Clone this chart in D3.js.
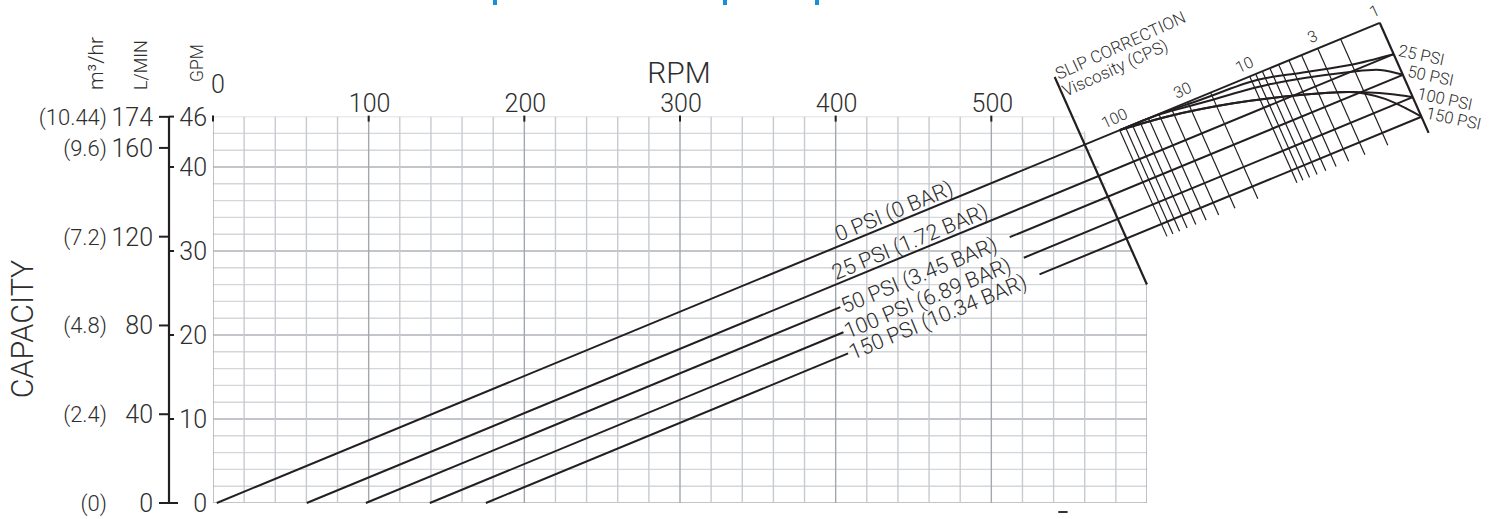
<!DOCTYPE html>
<html><head><meta charset="utf-8">
<script src="https://cdn.jsdelivr.net/npm/d3@7"></script>
<style>
body{margin:0;background:#fff;}
text{font-family:Roboto,"Liberation Sans",Arial,sans-serif;font-weight:300;fill:#2e2e2e;}
</style></head>
<body><svg id="c" width="1499" height="519"></svg>
<script>
// ---------- data ----------
const rpmTicks = [0, 100, 200, 300, 400, 500];
const gpmTicks = [0, 10, 20, 30, 40, 46];
const lpmTicks = [0, 40, 80, 120, 160, 174];
const m3hrLabels = ["(0)", "(2.4)", "(4.8)", "(7.2)", "(9.6)", "(10.44)"];
const pressurePsi = [0, 25, 50, 100, 150];
const pressureLabels = ["0 PSI (0 BAR)", "25 PSI (1.72 BAR)", "50 PSI (3.45 BAR)", "100 PSI (6.89 BAR)", "150 PSI (10.34 BAR)"];
const zeroFlowRpm = [2.4, 60.2, 98.2, 139.3, 175.3];      // RPM where each pressure line meets 0 GPM
const labelStartRpm = [403, 401, 404, 406, 409];           // RPM where each line label begins
const labelOnLine = [false, false, true, true, true];
const rightPsiLabels = ["25 PSI", "50 PSI", "100 PSI", "150 PSI"];
const viscosityLines = [100, 90, 80, 70, 60, 50, 40, 30, 20, 10, 9, 8, 7, 6, 5, 4, 3, 2];
const viscosityLabels = [100, 30, 10, 3, 1];
// slip-correction curves: [viscosity CPS, equivalent zero-flow RPM]
const curve25  = [[100, 2.4], [49, 3], [24.6, 7], [9.2, 12.4], [4.5, 29.8], [2.07, 48.9], [1, 60.2]];
const curve50  = [[100, 2.4], [49, 3.5], [25.2, 12.2], [8.2, 26.5], [2.17, 59.8], [1.36, 75.9], [1, 98.2]];
const curve100 = [[100, 2.4], [45.3, 11.6], [15.3, 33.6], [5.35, 63.5], [2.48, 90.9], [1.38, 119.7], [1, 139.3]];
const curve150 = [[100, 2.4], [45.3, 11.6], [15.3, 33.6], [5.35, 63.5], [2.48, 90.9], [1.95, 104.9], [1.53, 124.3], [1.18, 153.7], [1, 175.3]];
const curves = [curve25, curve50, curve100, curve150];
const slipAxisRpm = 560;          // where the slip axis crosses the 0 PSI line
const slipAxisExtent = [-122, 260];
const viscLineEnd = 198;          // equivalent zero-flow RPM where viscosity lines stop
const viscOneEnd = 205;

// ---------- scales ----------
const svg = d3.select("#c");
const x = d3.scaleLinear().domain([0, 600]).range([213, 1147]);
const y = d3.scaleLinear().domain([0, 46]).range([503, 116.6]);
const yL = d3.scaleLinear().domain([0, 174]).range([y(0), y(174 / 3.785)]);
const visc = d3.scaleLog().domain([100, 1]).range([582.5, 749.5]);

// geometry of the nomograph (RPM / GPM units)
const k = 0.4129 * (x(1) - x(0)) / (y(0) - y(1));  // GPM per RPM of the pressure lines
const m = 2.25 * (x(1) - x(0)) / (y(0) - y(1));    // viscosity-line direction
const s0 = zeroFlowRpm[0];
function onViscLine(r, s) {
  const g0 = k * (r - s0);
  const t = k * (s - s0) / (k + m);
  return [r + t, g0 - m * t];
}
const P = d => [x(d[0]), y(d[1])];
const ink = "#231f20";

// ---------- title fragments (cut off at the top edge) ----------
[495, 725, 817].forEach(cx => svg.append("rect").attr("x", cx - 2).attr("y", 0).attr("width", 4).attr("height", 5).attr("fill", "#1a8fd3"));

// ---------- grid ----------
const defs = svg.append("defs");
const axBot = onViscLine(slipAxisRpm, slipAxisExtent[1]);
const clipPoly = [[0, 0], [600, 0], [600, axBot[1]], [556, 46], [0, 46]];
defs.append("clipPath").attr("id", "gclip").append("polygon")
  .attr("points", clipPoly.map(p => P(p).join(",")).join(" "));
const grid = svg.append("g").attr("clip-path", "url(#gclip)");
d3.range(0, 47, 2).forEach(g => {
  grid.append("line").attr("x1", x(0)).attr("x2", x(600)).attr("y1", y(g)).attr("y2", y(g))
    .attr("stroke", g % 10 === 0 ? "#aeb2b8" : "#d3d6da").attr("stroke-width", 1.4);
});
d3.range(0, 601, 20).forEach(r => {
  grid.append("line").attr("x1", x(r)).attr("x2", x(r)).attr("y1", y(0)).attr("y2", y(46))
    .attr("stroke", r % 100 === 0 ? "#a3a8ae" : "#c7cbd0").attr("stroke-width", 1.4);
});

// RPM ticks + labels
rpmTicks.forEach(r => {
  svg.append("line").attr("x1", x(r)).attr("x2", x(r)).attr("y1", y(46) - 1).attr("y2", y(46) + 5)
    .attr("stroke", ink).attr("stroke-width", 2);
});
svg.append("text").attr("x", x(0) + 5).attr("y", 93).attr("text-anchor", "middle")
  .attr("font-size", 25).text(rpmTicks[0]);
rpmTicks.slice(1).forEach(r => svg.append("text").attr("x", x(r) + 1).attr("y", 112)
  .attr("text-anchor", "middle").attr("font-size", 25).text(r));
svg.append("text").attr("x", 679).attr("y", 83).attr("text-anchor", "middle").attr("font-size", 30).text("RPM");

// ---------- left capacity axis ----------
const axX = 169;
svg.append("line").attr("x1", axX).attr("x2", axX).attr("y1", y(46)).attr("y2", y(0)).attr("stroke", ink).attr("stroke-width", 2.2);
lpmTicks.forEach((l, i) => {
  svg.append("line").attr("x1", axX - 10).attr("x2", axX).attr("y1", yL(l)).attr("y2", yL(l)).attr("stroke", ink).attr("stroke-width", 2);
  svg.append("text").attr("x", 153).attr("y", yL(l)).attr("dy", "0.36em").attr("text-anchor", "end").attr("font-size", 25).text(l);
  svg.append("text").attr("x", 107).attr("y", yL(l)).attr("dy", "0.36em").attr("text-anchor", "end").attr("font-size", 22).text(m3hrLabels[i]);
});
gpmTicks.forEach(g => {
  svg.append("line").attr("x1", axX).attr("x2", axX + (g === 0 ? 9 : 5)).attr("y1", y(g)).attr("y2", y(g)).attr("stroke", ink).attr("stroke-width", 2);
  svg.append("text").attr("x", 207).attr("y", y(g)).attr("dy", "0.36em").attr("text-anchor", "end").attr("font-size", 25).text(g);
});
[["m³/hr", 103, 90, 21], ["L/MIN", 147, 90, 18], ["GPM", 203, 82, 17.5]].forEach(([t, bx, by, fs]) => {
  svg.append("text").attr("transform", `translate(${bx},${by}) rotate(-90)`)
    .attr("text-anchor", "start").attr("font-size", fs).text(t);
});
svg.append("text").attr("transform", "translate(33,329) rotate(-90)").attr("text-anchor", "middle")
  .attr("font-size", 30.5).text("CAPACITY");

// ---------- nomograph ----------
const nomo = svg.append("g");
viscosityLines.forEach(v => {
  const a = onViscLine(visc(v), s0), b = onViscLine(visc(v), viscLineEnd);
  nomo.append("line").attr("x1", x(a[0])).attr("y1", y(a[1])).attr("x2", x(b[0])).attr("y2", y(b[1]))
    .attr("stroke", ink).attr("stroke-width", 1.2);
});
{
  const a = onViscLine(visc(1), s0), b = onViscLine(visc(1), viscOneEnd);
  nomo.append("line").attr("x1", x(a[0])).attr("y1", y(a[1])).attr("x2", x(b[0])).attr("y2", y(b[1]))
    .attr("stroke", ink).attr("stroke-width", 2.2);
}
{
  const a = onViscLine(slipAxisRpm, slipAxisExtent[0]), b = onViscLine(slipAxisRpm, slipAxisExtent[1]);
  nomo.append("line").attr("x1", x(a[0])).attr("y1", y(a[1])).attr("x2", x(b[0])).attr("y2", y(b[1]))
    .attr("stroke", ink).attr("stroke-width", 2.2);
  const ax = x(a[0]), ay = y(a[1]);
  nomo.append("text").attr("transform", `translate(${ax + 4},${ay + 3}) rotate(-24.5)`).attr("font-size", 17).text("SLIP CORRECTION");
  nomo.append("text").attr("transform", `translate(${ax + 11},${ay + 20}) rotate(-24.5)`).attr("font-size", 17).text("Viscosity (CPS)");
}
const ang = Math.atan2(2.25, 1);
viscosityLabels.forEach(v => {
  const a = P(onViscLine(visc(v), s0));
  nomo.append("text").attr("transform", `translate(${a[0] - 13 * Math.cos(ang)},${a[1] - 13 * Math.sin(ang)}) rotate(-25)`)
    .attr("text-anchor", "middle").attr("dy", "0.35em").attr("font-size", 16).text(v);
});
curves.forEach(c => {
  const pts = c.map(([v, s]) => P(onViscLine(visc(v), s)));
  nomo.append("path").attr("d", d3.line().curve(d3.curveCatmullRom.alpha(0.5))(pts))
    .attr("fill", "none").attr("stroke", ink).attr("stroke-width", 2);
});
rightPsiLabels.forEach((t, i) => {
  const e = P(onViscLine(visc(1), zeroFlowRpm[i + 1]));
  nomo.append("text").attr("transform", `translate(${e[0] + 5},${e[1] - 4}) rotate(12)`)
    .attr("dy", "0.35em").attr("font-size", 16.5).text(t);
});

// ---------- pressure lines ----------
const theta = Math.atan(0.4129);
const thetaDeg = theta * 180 / Math.PI;
pressurePsi.forEach((p, i) => {
  const s = zeroFlowRpm[i];
  const start = [s, 0];
  const end = onViscLine(visc(1), s);
  const at = r => [r, k * (r - s)];
  const lp = P(at(labelStartRpm[i]));
  const t = svg.append("text").attr("font-size", 21.5)
    .attr("transform", `translate(${lp[0]},${lp[1]}) rotate(${-thetaDeg})`)
    .text(pressureLabels[i]);
  if (labelOnLine[i]) {
    t.attr("dy", "0.36em");
    const len = t.node().getComputedTextLength();
    const endR = labelStartRpm[i] + (len * Math.cos(theta) + 14) / (x(1) - x(0));
    svg.append("path").attr("d", d3.line()([P(start), P(at(labelStartRpm[i] - 1))])).attr("stroke", ink).attr("stroke-width", 2).attr("fill", "none");
    svg.append("path").attr("d", d3.line()([P(at(endR)), P(end)])).attr("stroke", ink).attr("stroke-width", 2).attr("fill", "none");
  } else {
    t.attr("y", -4);
    svg.append("path").attr("d", d3.line()([P(start), P(end)])).attr("stroke", ink).attr("stroke-width", 2).attr("fill", "none");
  }
});

// stray dash below the grid
svg.append("line").attr("x1", x(543)).attr("x2", x(549)).attr("y1", 512).attr("y2", 512).attr("stroke", "#333").attr("stroke-width", 2);
</script></body></html>
